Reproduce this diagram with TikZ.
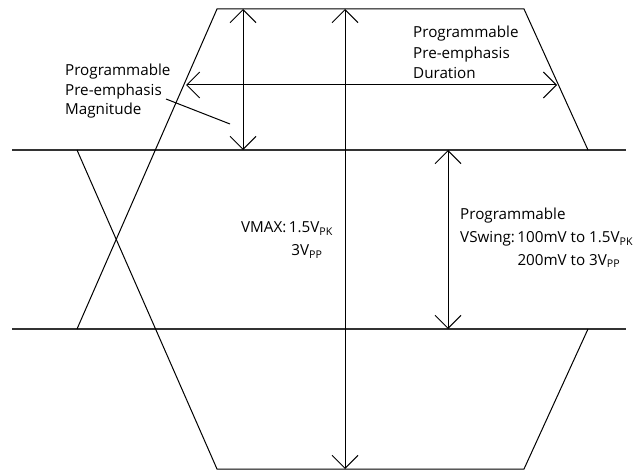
\documentclass[tikz,border=0pt]{standalone}
\usepackage{fontspec}
\setmainfont{Open Sans}
\usetikzlibrary{arrows.meta}
\tikzset{
  wave/.style={line width=1pt},
  rail/.style={line width=1.4pt, black!80},
  dim/.style={line width=1pt,
    {Straight Barb[length=13pt,width=26pt]}-{Straight Barb[length=13pt,width=26pt]}},
  lbl/.style={inner sep=0pt, anchor=base west, text=black}
}
\newcommand{\lblfont}[1]{\fontsize{15.2}{#1}\selectfont}
\begin{document}
\begin{tikzpicture}[x=1pt,y=-1pt]
  \useasboundingbox (0,0) rectangle (639,470);
  \coordinate (hiL) at (12,150);
  \coordinate (hiR) at (626,150);
  \coordinate (loL) at (12,329);
  \coordinate (loR) at (626,329);
  \coordinate (topL) at (217,9);
  \coordinate (topR) at (524,9);
  \coordinate (topE) at (588,150);
  \coordinate (botL) at (217,469);
  \coordinate (botR) at (524,469);
  \coordinate (botE) at (588,329);
  \coordinate (riseS) at (77,329);
  \coordinate (fallS) at (77,150);
  \draw[rail] (hiL) -- (hiR);
  \draw[rail] (loL) -- (loR);
  \draw[wave] (riseS) -- (topL) -- (topR) -- (topE);
  \draw[wave] (fallS) -- (botL) -- (botR) -- (botE);

  \coordinate (vmaxT) at (345,9);
  \coordinate (vmaxB) at (345,469);
  \coordinate (magT) at (243,9);
  \coordinate (magB) at (243,150);
  \coordinate (durL) at (186,85);
  \coordinate (durR) at (557,85);
  \coordinate (swT) at (448,150);
  \coordinate (swB) at (448,329);
  \coordinate (leadA) at (166,99);
  \coordinate (leadB) at (230,124);
  \begin{scope}[dim]
    \draw (vmaxT) to (vmaxB);
    \draw (magT) to (magB);
    \draw (durL) to (durR);
    \draw (swT) to (swB);
  \end{scope}
  \draw[wave] (leadA) -- (leadB);

  \node[lbl] (magtext) at (65,76) {\lblfont{19.5}%
    \begin{tabular}[t]{@{}l@{}}Programmable\\Pre-emphasis\\Magnitude\end{tabular}};
  \node[lbl] (durtext) at (413,38) {\lblfont{20.5}%
    \begin{tabular}[t]{@{}l@{}}Programmable\\Pre-emphasis\\Duration\end{tabular}};
  \node[lbl] (vmaxtext) at (241,233) {\lblfont{23}%
    \begin{tabular}[t]{@{}r@{\,}l@{}}VMAX: & 1.5V\textsubscript{PK}\\
      & \,3V\textsubscript{PP}\end{tabular}};
  \node[lbl] (swtext) at (460,220) {\lblfont{22.5}%
    \begin{tabular}[t]{@{}l@{\,}l@{}}\multicolumn{2}{@{}l@{}}{Programmable}\\
      VSwing: & 100mV to 1.5V\textsubscript{PK}\\
      & 200mV to 3V\textsubscript{PP}\end{tabular}};
\end{tikzpicture}
\end{document}
